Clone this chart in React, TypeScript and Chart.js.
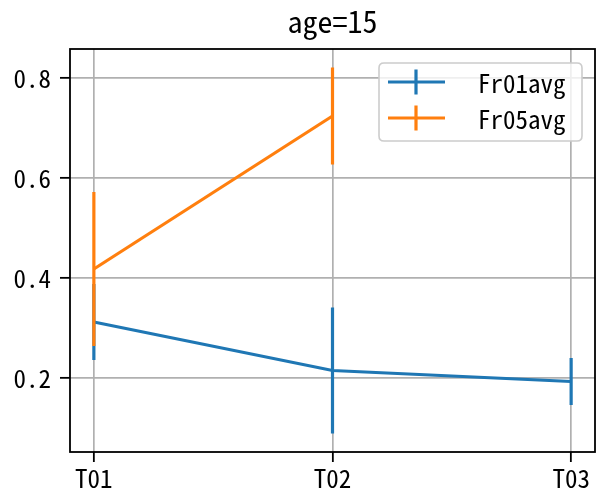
import React, { useEffect, useRef } from "react";
import { Chart, registerables } from "chart.js";

Chart.register(...registerables);

const title = "age=15";
const categories = ["T01", "T02", "T03"];
const seriesNames = ["Fr01avg", "Fr05avg"];
const seriesColors = ["#1f77b4", "#ff7f0e"];
const fr01Values: (number | null)[] = [0.312, 0.215, 0.193];
const fr01Errors: (number | null)[] = [0.076, 0.126, 0.047];
const fr05Values: (number | null)[] = [0.418, 0.724, null];
const fr05Errors: (number | null)[] = [0.154, 0.097, null];
const yTicks = [0.2, 0.4, 0.6, 0.8];

const FONT = '"Noto Sans Mono CJK JP", "Noto Sans CJK JP", "DejaVu Sans", sans-serif';
const TICK_SIZE = 25;
const TITLE_SIZE = 30;

export default function App() {
  const ref = useRef<HTMLCanvasElement | null>(null);

  useEffect(() => {
    const canvas = ref.current;
    if (!canvas) return;
    const allErrors = [fr01Errors, fr05Errors];
    const allValues = [fr01Values, fr05Values];

    const errorBarPlugin = {
      id: "errorBars",
      afterDatasetDraw(chart: any, args: any) {
        const i = args.index;
        const ctx = chart.ctx;
        const xs = chart.scales.x;
        const ys = chart.scales.y;
        const vals = allValues[i];
        const errs = allErrors[i];
        ctx.save();
        ctx.strokeStyle = seriesColors[i];
        ctx.lineWidth = 3.2;
        ctx.lineCap = "butt";
        vals.forEach((v, k) => {
          const e = errs[k];
          if (v == null || e == null) return;
          const px = xs.getPixelForValue(k);
          ctx.beginPath();
          ctx.moveTo(px, ys.getPixelForValue(v - e));
          ctx.lineTo(px, ys.getPixelForValue(v + e));
          ctx.stroke();
        });
        ctx.restore();
      },
    };

    const framePlugin = {
      id: "frameAndDecor",
      afterDatasetsDraw(chart: any) {
        const { ctx, chartArea } = chart;
        ctx.save();
        ctx.strokeStyle = "#000";
        ctx.lineWidth = 1.8;
        ctx.strokeRect(chartArea.left, chartArea.top, chartArea.right - chartArea.left, chartArea.bottom - chartArea.top);
        ctx.restore();
      },
      afterDraw(chart: any) {
        const { ctx, chartArea } = chart;
        ctx.save();
        // title
        ctx.fillStyle = "#000";
        ctx.font = `${TITLE_SIZE}px ${FONT}`;
        ctx.textAlign = "center";
        ctx.textBaseline = "alphabetic";
        ctx.fillText(title, (chartArea.left + chartArea.right) / 2, 33);

        // legend
        const bx = 379, by = 63, bw = 203, bh = 78, r = 5;
        ctx.beginPath();
        ctx.moveTo(bx + r, by);
        ctx.lineTo(bx + bw - r, by);
        ctx.quadraticCurveTo(bx + bw, by, bx + bw, by + r);
        ctx.lineTo(bx + bw, by + bh - r);
        ctx.quadraticCurveTo(bx + bw, by + bh, bx + bw - r, by + bh);
        ctx.lineTo(bx + r, by + bh);
        ctx.quadraticCurveTo(bx, by + bh, bx, by + bh - r);
        ctx.lineTo(bx, by + r);
        ctx.quadraticCurveTo(bx, by, bx + r, by);
        ctx.closePath();
        ctx.fillStyle = "rgba(255,255,255,0.8)";
        ctx.fill();
        ctx.strokeStyle = "#cccccc";
        ctx.lineWidth = 1.6;
        ctx.stroke();

        seriesNames.forEach((name, i) => {
          const cy = 82 + i * 36;
          ctx.strokeStyle = seriesColors[i];
          ctx.lineWidth = 3.2;
          ctx.beginPath();
          ctx.moveTo(388, cy);
          ctx.lineTo(445, cy);
          ctx.moveTo(416, cy - 12.5);
          ctx.lineTo(416, cy + 12.5);
          ctx.stroke();
          ctx.fillStyle = "#000";
          ctx.font = `${TICK_SIZE}px ${FONT}`;
          ctx.textAlign = "left";
          ctx.textBaseline = "middle";
          ctx.fillText(name, 478, cy + 1);
        });
        ctx.restore();
      },
    };

    const gridOpts = {
      color: "#b0b0b0",
      lineWidth: 1.7,
      tickColor: "#000",
      tickWidth: 1.8,
      tickLength: 10,
      drawTicks: true,
    };

    const chart = new Chart(canvas, {
      type: "line",
      data: {
        datasets: [
          {
            label: seriesNames[0],
            data: categories.map((_, k) => ({ x: k, y: fr01Values[k] })),
            borderColor: seriesColors[0],
            backgroundColor: seriesColors[0],
            borderWidth: 3.2,
            pointRadius: 0,
            tension: 0,
            order: 1,
          },
          {
            label: seriesNames[1],
            data: categories.map((_, k) => ({ x: k, y: fr05Values[k] })),
            borderColor: seriesColors[1],
            backgroundColor: seriesColors[1],
            borderWidth: 3.2,
            pointRadius: 0,
            tension: 0,
            spanGaps: false,
            order: 0,
          },
        ] as any,
      },
      options: {
        animation: false,
        responsive: false,
        maintainAspectRatio: false,
        layout: { padding: { top: 49, right: 2, left: 0, bottom: 0 } },
        plugins: {
          legend: { display: false },
          title: { display: false },
          tooltip: { enabled: false },
        },
        scales: {
          x: {
            type: "linear",
            min: -0.1,
            max: 2.1,
            afterBuildTicks: (scale: any) => {
              scale.ticks = categories.map((_, k) => ({ value: k }));
            },
            afterFit: (scale: any) => {
              scale.height = 41;
            },
            ticks: {
              autoSkip: false,
              maxRotation: 0,
              padding: 1,
              color: "#000",
              font: { family: FONT, size: TICK_SIZE },
              callback: (v: any) => categories[Math.round(Number(v))] ?? "",
            },
            grid: gridOpts,
            border: { display: false },
          },
          y: {
            type: "linear",
            min: 0.052,
            max: 0.858,
            afterBuildTicks: (scale: any) => {
              scale.ticks = yTicks.map((v) => ({ value: v }));
            },
            afterFit: (scale: any) => {
              scale.width = 70;
            },
            ticks: {
              autoSkip: false,
              padding: 9,
              color: "#000",
              font: { family: FONT, size: TICK_SIZE },
              callback: (v: any) => Number(v).toFixed(1),
            },
            grid: gridOpts,
            border: { display: false },
          },
        },
      } as any,
      plugins: [errorBarPlugin, framePlugin],
    });

    return () => chart.destroy();
  }, []);

  return (
    <div style={{ position: "absolute", left: 0, top: 0, width: 597, height: 493 }}>
      <canvas ref={ref} width={597} height={493} style={{ width: 597, height: 493, display: "block" }} />
    </div>
  );
}
